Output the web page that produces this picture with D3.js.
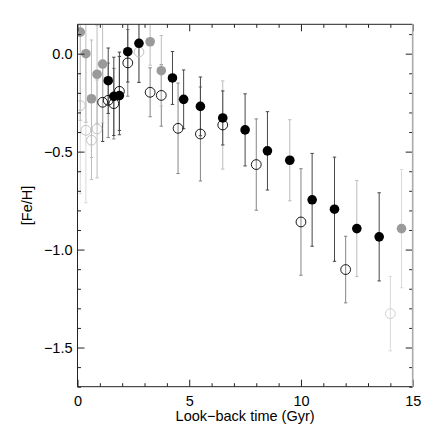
<!DOCTYPE html>
<html>
<head>
<meta charset="utf-8">
<script src="https://cdn.jsdelivr.net/npm/d3@7"></script>
<style>
  body { margin: 0; background: #fff; }
  text { font-family: "Liberation Sans", Arial, sans-serif; }
</style>
</head>
<body>
<svg id="chart" width="436" height="436"></svg>
<script>
// filled symbols: look-back time (Gyr), [Fe/H], error, shade of symbol, shade of error bar
var fillAge = [0.125, 0.375, 0.625, 0.875, 1.125, 1.375, 1.625, 1.875, 2.25, 2.75, 3.25, 3.75,
               4.25, 4.75, 5.5, 6.5, 7.5, 8.5, 9.5, 10.5, 11.5, 12.5, 13.5, 14.5];
var fillFeH = [0.11, 0.0, -0.23, -0.105, -0.053, -0.138, -0.218, -0.214, 0.01, 0.053, 0.061, -0.087,
               -0.124, -0.233, -0.269, -0.328, -0.389, -0.496, -0.544, -0.746, -0.794, -0.893, -0.935, -0.893];
var fillErr = [0.45, 0.35, 0.3, 0.25, 0.3, 0.167, 0.2, 0.2, 0.155, 0.2, 0.12, 0.18,
               0.135, 0.15, 0.15, 0.138, 0.184, 0.2, 0.207, 0.237, 0.266, 0.245, 0.225, 0.302];
var fillShade = [1, 1, 1, 1, 1, 0, 0, 0, 0, 0, 1, 1, 0, 0, 0, 0, 0, 0, 0, 0, 0, 0, 0, 1];
var fillBarShade = [2, 2, 2, 2, 2, 0, 0, 0, 0, 0, 2, 2, 0, 0, 0, 0, 0, 0, 2, 0, 0, 2, 0, 3];

// open symbols
var openAge = [0.125, 0.375, 0.625, 0.875, 1.125, 1.375, 1.625, 1.875, 2.25, 2.75, 3.25, 3.75,
               4.5, 5.5, 6.5, 8, 10, 12, 14];
var openFeH = [-0.265, -0.391, -0.442, -0.384, -0.248, -0.238, -0.255, -0.192, -0.047, 0.009, -0.197, -0.213,
               -0.381, -0.41, -0.364, -0.566, -0.859, -1.102, -1.327];
var openErr = [0.45, 0.37, 0.2, 0.25, 0.2, 0.19, 0.18, 0.2, 0.17, 0.15, 0.125, 0.157,
               0.231, 0.24, 0.225, 0.233, 0.272, 0.17, 0.19];
var openShade = [2, 2, 2, 2, 0, 0, 0, 0, 0, 2, 0, 0, 0, 0, 0, 0, 0, 0, 3];
var openBarShade = [3, 3, 2, 2, 0, 1, 1, 0, 1, 3, 1, 1, 1, 1, 2, 1, 1, 1, 3];

var xMajor = [0, 5, 10, 15];
var yMajor = [-1.5, -1.0, -0.5, 0.0];

var symbolColor = ["#000000", "#9a9a9a", "#bbbbbb", "#cccccc"];
var barColor = ["#474747", "#858585", "#bdbdbd", "#dadada"];

var svg = d3.select("#chart");
var pLeft = 77.5, pRight = 412.7, pTop = 24.3, pBottom = 386.7;

var x = d3.scaleLinear().domain([0, 15]).range([pLeft, pRight]);
var y = d3.scaleLinear().domain([-1.7, 0.15]).range([pBottom, pTop]);

svg.append("clipPath").attr("id", "plotclip")
  .append("rect").attr("x", pLeft).attr("y", pTop)
  .attr("width", pRight - pLeft).attr("height", pBottom - pTop);

// build point tables from the arrays
var filled = fillAge.map((a, i) => ({age: a, feh: fillFeH[i], err: fillErr[i], shade: fillShade[i], bar: fillBarShade[i]}));
var open = openAge.map((a, i) => ({age: a, feh: openFeH[i], err: openErr[i], shade: openShade[i], bar: openBarShade[i]}));

var plot = svg.append("g").attr("clip-path", "url(#plotclip)");

// error bars
function drawBars(data) {
  var g = plot.append("g");
  data.forEach((d) => {
    var px = x(d.age), y1 = y(d.feh + d.err), y2 = y(d.feh - d.err);
    var c = barColor[d.bar];
    g.append("line").attr("x1", px).attr("x2", px).attr("y1", y1).attr("y2", y2)
      .attr("stroke", c).attr("stroke-width", 1);
    [y1, y2].forEach((yy) => {
      g.append("line").attr("x1", px - 1.7).attr("x2", px + 1.7).attr("y1", yy).attr("y2", yy)
        .attr("stroke", c).attr("stroke-width", 1);
    });
  });
}
drawBars(open);
drawBars(filled);

// open circles
plot.append("g").selectAll("circle").data(open).enter().append("circle")
  .attr("cx", (d) => x(d.age)).attr("cy", (d) => y(d.feh)).attr("r", 4.9)
  .attr("fill", "none").attr("stroke", (d) => symbolColor[d.shade]).attr("stroke-width", 0.9);

// filled circles
plot.append("g").selectAll("circle").data(filled).enter().append("circle")
  .attr("cx", (d) => x(d.age)).attr("cy", (d) => y(d.feh)).attr("r", 4.8)
  .attr("fill", (d) => symbolColor[d.shade]);

// axes: ticks point inward on all four sides
var xMinor = d3.range(0, 16, 1).filter((v) => xMajor.indexOf(v) < 0);
var yMinor = d3.range(-17, 2, 1).map((v) => v / 10).filter((v) => yMajor.indexOf(v) < 0);

function styleAxis(g) {
  g.select(".domain").remove();
  g.selectAll(".tick line").attr("stroke", "#222");
  g.selectAll(".tick text").attr("fill", "#000").style("font-size", "14.5px")
    .style("font-family", "'Liberation Sans', Arial, sans-serif");
}

svg.append("g").attr("transform", `translate(0,${pBottom})`)
  .call(d3.axisBottom(x).tickValues(xMajor).tickSize(-7).tickPadding(9).tickFormat(d3.format("d")))
  .call(styleAxis);
svg.append("g").attr("transform", `translate(0,${pBottom})`)
  .call(d3.axisBottom(x).tickValues(xMinor).tickSize(-3.5).tickFormat(""))
  .call(styleAxis);
svg.append("g").attr("transform", `translate(0,${pTop})`)
  .call(d3.axisTop(x).tickValues(xMajor).tickSize(-7).tickFormat(""))
  .call(styleAxis);
svg.append("g").attr("transform", `translate(0,${pTop})`)
  .call(d3.axisTop(x).tickValues(xMinor).tickSize(-3.5).tickFormat(""))
  .call(styleAxis);

svg.append("g").attr("transform", `translate(${pLeft},0)`)
  .call(d3.axisLeft(y).tickValues(yMajor).tickSize(-7).tickPadding(5).tickFormat(d3.format(".1f")))
  .call(styleAxis);
svg.append("g").attr("transform", `translate(${pLeft},0)`)
  .call(d3.axisLeft(y).tickValues(yMinor).tickSize(-3.5).tickFormat(""))
  .call(styleAxis);
svg.append("g").attr("transform", `translate(${pRight},0)`)
  .call(d3.axisRight(y).tickValues(yMajor).tickSize(-7).tickFormat(""))
  .call(styleAxis);
svg.append("g").attr("transform", `translate(${pRight},0)`)
  .call(d3.axisRight(y).tickValues(yMinor).tickSize(-3.5).tickFormat(""))
  .call(styleAxis);

// frame
svg.append("line").attr("x1", pLeft).attr("x2", pRight).attr("y1", pBottom).attr("y2", pBottom).attr("stroke", "#222");
svg.append("line").attr("x1", pLeft).attr("x2", pRight).attr("y1", pTop).attr("y2", pTop).attr("stroke", "#222");
svg.append("line").attr("x1", pLeft).attr("x2", pLeft).attr("y1", pTop).attr("y2", pBottom).attr("stroke", "#222");
svg.append("line").attr("x1", pRight).attr("x2", pRight).attr("y1", pTop).attr("y2", pBottom)
  .attr("stroke", "#aaa").attr("stroke-width", 1.6);

// axis titles
svg.append("text").attr("x", (pLeft + pRight) / 2).attr("y", 421)
  .attr("text-anchor", "middle").style("font-size", "14.5px").text("Look\u2212back time (Gyr)");
svg.append("text").attr("transform", `translate(32,${(pTop + pBottom) / 2}) rotate(-90)`)
  .attr("text-anchor", "middle").style("font-size", "14.5px").text("[Fe/H]");
</script>
</body>
</html>
